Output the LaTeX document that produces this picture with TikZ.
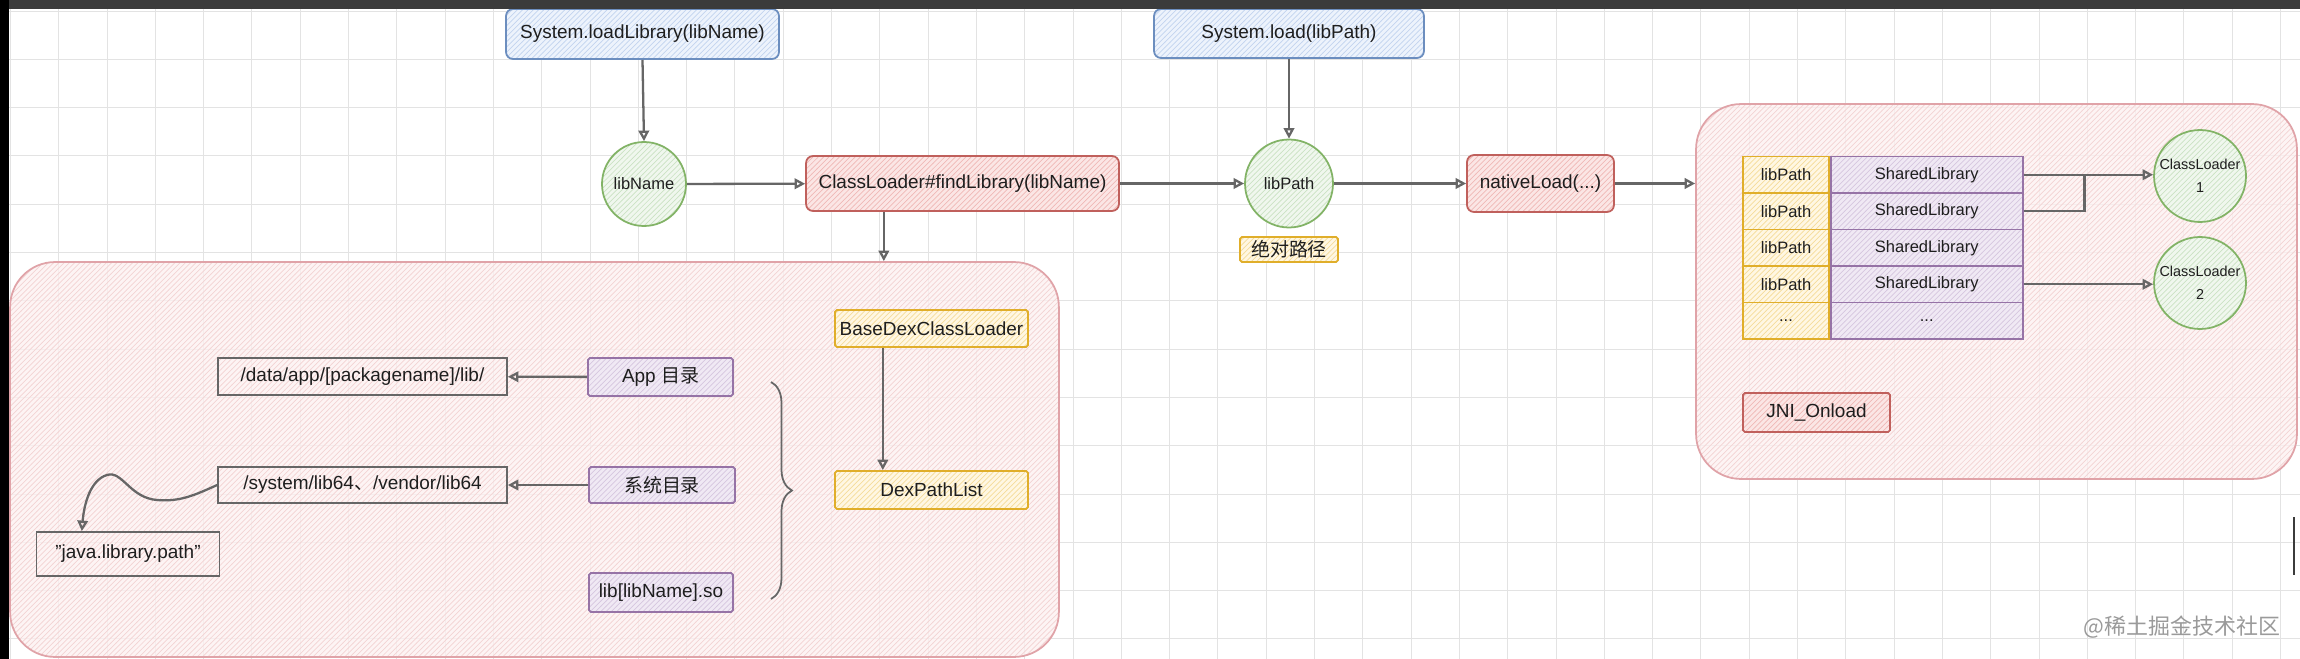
\documentclass[tikz,border=0pt]{standalone}
\usepackage{fontspec}
\setmainfont{Liberation Sans}
\newfontfamily\cjk{Noto Sans CJK SC}
\usepackage{xcolor}
\usepackage{tikz}
\usetikzlibrary{arrows.meta, positioning, calc, decorations.pathreplacing, patterns}

\definecolor{blueLine}{HTML}{6C8EBF}
\definecolor{blueFill}{HTML}{EDF3FC}
\definecolor{blueHatch}{HTML}{C2D4EF}
\definecolor{greenLine}{HTML}{82B366}
\definecolor{greenFill}{HTML}{F0F7EE}
\definecolor{greenHatch}{HTML}{CBE2C3}
\definecolor{redLine}{HTML}{C0605C}
\definecolor{redFill}{HTML}{FBE6E5}
\definecolor{redHatch}{HTML}{EFB8B6}
\definecolor{yellowLine}{HTML}{E0AE2A}
\definecolor{yellowFill}{HTML}{FFF7E3}
\definecolor{yellowHatch}{HTML}{F5DC9A}
\definecolor{purpleLine}{HTML}{9673A6}
\definecolor{purpleFill}{HTML}{F0E9F4}
\definecolor{purpleHatch}{HTML}{D6C6DF}
\definecolor{panelLine}{HTML}{E0A3A8}
\definecolor{panelFill}{HTML}{FDF1F1}
\definecolor{panelHatch}{HTML}{F3D3D3}
\definecolor{grayLine}{HTML}{666666}
\definecolor{arrowGray}{HTML}{666666}
\definecolor{gridGray}{HTML}{E3E3E3}
\definecolor{textDark}{HTML}{1E1E1E}
\definecolor{bandGray}{HTML}{3B3B3B}
\definecolor{markGray}{HTML}{9A9A9A}

\newcommand{\etcCell}{...}

\tikzset{
  sketch/.style={draw, line width=1pt, inner sep=1pt, text=textDark},
  blueBox/.style={sketch, rounded corners=4pt, draw=blueLine, preaction={fill=blueFill}, pattern=north east lines, pattern color=blueHatch},
  redBox/.style={sketch, rounded corners=4pt, draw=redLine, preaction={fill=redFill}, pattern=north east lines, pattern color=redHatch},
  yellowBox/.style={sketch, rounded corners=1pt, draw=yellowLine, preaction={fill=yellowFill}, pattern=north east lines, pattern color=yellowHatch},
  purpleBox/.style={sketch, rounded corners=1pt, draw=purpleLine, preaction={fill=purpleFill}, pattern=north east lines, pattern color=purpleHatch},
  grayBox/.style={sketch, draw=grayLine},
  greenCirc/.style={sketch, circle, inner sep=0pt, draw=greenLine, preaction={fill=greenFill}, pattern=north east lines, pattern color=greenHatch, font=\fontsize{9.4}{11}\selectfont},
  keyCell/.style={yellowBox, rounded corners=0pt, minimum width=1.72cm, minimum height=0.73cm, font=\fontsize{9.4}{11}\selectfont},
  valCell/.style={purpleBox, rounded corners=0pt, minimum width=3.84cm, minimum height=0.73cm, font=\fontsize{9.4}{11}\selectfont},
  panel/.style={draw=panelLine, line width=1pt, rounded corners=0.9cm, preaction={fill=panelFill, fill opacity=0.75}, pattern=north east lines, pattern color=panelHatch},
  flow/.style={draw=arrowGray, line width=1.3pt, -{Triangle[open, length=6pt, width=6pt]}},
  link/.style={draw=arrowGray, line width=1.3pt},
  braceLine/.style={draw=arrowGray, line width=1pt, decorate, decoration={brace, amplitude=0.42cm}},
  gridLine/.style={draw=gridGray, line width=0.5pt}
}

\begin{document}
\begin{tikzpicture}[x=0.02cm, y=-0.02cm, font=\fontsize{10.8}{13}\selectfont]
    \useasboundingbox (0,0) rectangle (2300,659);
    \fill[white] (0,0) rectangle (2300,659);
    % grid of the canvas
    \foreach \gx in {0,...,47}
        \draw[gridLine] ({10.4+48.3*\gx},0) -- ({10.4+48.3*\gx},659);
    \foreach \gy in {0,...,13}
        \draw[gridLine] (0,{11+48.3*\gy}) -- (2300,{11+48.3*\gy});

    % two group panels
    \node[panel, minimum width=20.98cm, minimum height=7.9cm] (libPanel) at (534.5,459.5) {};
    \node[panel, minimum width=12.02cm, minimum height=7.5cm] (loadPanel) at (1996.5,291.5) {};

    % main line
    \node[blueBox, minimum width=5.46cm, minimum height=1cm] (loadLib) at (642.5,34) {System.loadLibrary(libName)};
    \node[blueBox, minimum width=5.4cm, minimum height=0.98cm] (load) at (1289,33.5) {System.load(libPath)};
    \node[greenCirc, minimum size=1.68cm] (libName) at (644,184) {libName};
    \node[redBox, minimum width=6.26cm, minimum height=1.1cm] (findLib) at (962.5,183.5) {ClassLoader\#findLibrary(libName)};
    \node[greenCirc, minimum size=1.76cm] (libPath) at (1289,183.5) {libPath};
    \node[redBox, minimum width=2.94cm, minimum height=1.14cm] (nativeLoad) at (1540.5,183.5) {nativeLoad(...)};
    \node[yellowBox, minimum width=1.96cm, minimum height=0.5cm] (absPath) at (1289,249.5) {\cjk 绝对路径};

    % search paths
    \node[yellowBox, minimum width=3.86cm, minimum height=0.74cm] (baseDex) at (931.5,328.5) {BaseDexClassLoader};
    \node[yellowBox, minimum width=3.86cm, minimum height=0.76cm] (dexPath) at (931.5,490) {DexPathList};
    \node[purpleBox, minimum width=2.9cm, minimum height=0.76cm] (appDir) at (660.5,377) {App {\cjk 目录}};
    \node[purpleBox, minimum width=2.92cm, minimum height=0.72cm] (sysDir) at (662,485) {\cjk 系统目录};
    \node[purpleBox, minimum width=2.88cm, minimum height=0.78cm] (soName) at (661,592.5) {lib[libName].so};
    \node[grayBox, minimum width=5.78cm, minimum height=0.74cm] (appPath) at (362.5,376.5) {/data/app/[packagename]/lib/};
    \node[grayBox, minimum width=5.78cm, minimum height=0.72cm] (sysPath) at (362.5,485) {/system/lib64{\cjk 、}/vendor/lib64};
    \node[grayBox, minimum width=3.66cm, minimum height=0.88cm] (javaPath) at (128,554) {"java.library.path"};

    % loaded libraries
    \foreach \i/\k/\v in {1/libPath/SharedLibrary, 2/libPath/SharedLibrary, 3/libPath/SharedLibrary, 4/libPath/SharedLibrary, 5/\etcCell/\etcCell} {
        \node[keyCell] (key\i) at (1786,{174.75+36.5*(\i-1)}) {\k};
        \node[valCell, right=0pt of key\i] (val\i) {\v};
    }
    \node[greenCirc, minimum size=1.84cm, align=center, font=\fontsize{8.2}{13}\selectfont] (loader1) at (2200,176) {ClassLoader\\1};
    \node[greenCirc, minimum size=1.84cm, align=center, font=\fontsize{8.2}{13}\selectfont] (loader2) at (2200,283) {ClassLoader\\2};
    \node[redBox, rounded corners=1pt, minimum width=2.94cm, minimum height=0.78cm] (jniOnload) at (1816.5,412.5) {JNI\_Onload};

    \node[text=markGray, font=\cjk\fontsize{12.5}{14}\selectfont] (mark) at (2182,627) {@稀土掘金技术社区};

    % connectors
    \draw[flow] (loadLib.south) -- (libName.north);
    \draw[flow] (load.south) -- (libPath.north);
    \draw[flow] (libName) -- (findLib);
    \draw[flow] (findLib) -- (libPath);
    \draw[flow] (libPath) -- (nativeLoad);
    \draw[flow] (nativeLoad.east) -- (nativeLoad.east -| loadPanel.west);
    \coordinate (findOut) at ($(findLib.south west)!0.25!(findLib.south east)$);
    \draw[flow] (findOut) -- (findOut |- libPanel.north);
    \coordinate (baseOut) at ($(baseDex.south west)!0.25!(baseDex.south east)$);
    \draw[flow] (baseOut) -- (baseOut |- dexPath.north);
    \draw[flow] (appDir) -- (appPath);
    \draw[flow] (sysDir) -- (sysPath);
    \coordinate (javaIn) at ($(javaPath.north west)!0.25!(javaPath.north east)$);
    \draw[flow] (sysPath.west) .. controls (195,495) and (180,502) .. (157,500)
        .. controls (130,498) and (122,470) .. (107,475)
        .. controls (90,480) and (84,505) .. (javaIn);
    \draw[braceLine] (771,382) -- (771,599);

    \coordinate (join) at ($(val1.east)+(61,0)$);
    \draw[flow] (val1.east) -- (val1.east -| loader1.west);
    \draw[link] (val2.east) -| (join);
    \draw[flow] (val4.east) -- (val4.east -| loader2.west);

    % screen edges
    \fill[bandGray] (0,0) rectangle (2300,9);
    \fill[black] (0,0) rectangle (9,659);
    \draw[bandGray, line width=1pt] (2294,517) -- (2294,575);
\end{tikzpicture}
\end{document}
